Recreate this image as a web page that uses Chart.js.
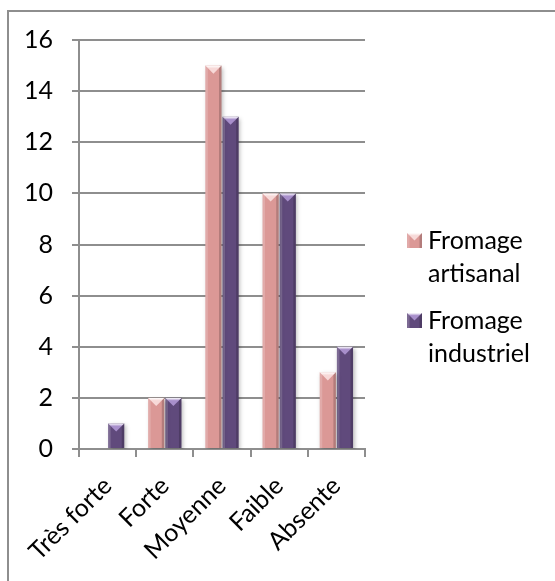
<!DOCTYPE html>
<html>
<head>
<meta charset="utf-8">
<script src="https://cdn.jsdelivr.net/npm/chart.js@4/dist/chart.umd.min.js"></script>
<style>
    html, body { margin: 0; padding: 0; background: #fff; overflow: hidden; }
    #frame {
        position: absolute; left: 7px; top: 10px;
        width: 560px; height: 580px;
        border-left: 2px solid #8e8e8e; border-top: 2px solid #8e8e8e;
    }
    #wrap { position: relative; width: 546px; height: 569px; }
</style>
</head>
<body>
<div id="frame"><div id="wrap"><canvas id="fromageChart"></canvas></div></div>
<script>
const categories = ['Très forte', 'Forte', 'Moyenne', 'Faible', 'Absente'];
const artisanal = [0, 2, 15, 10, 3];
const industriel = [1, 2, 13, 10, 4];
const seriesNames = ['Fromage artisanal', 'Fromage industriel'];
const yMax = 16;
const yStep = 2;

const fillColors = ['#db9896', '#604a7c'];
const topColors = ['#f7d9d8', '#a88fcb'];
const FONT = 'Lato, "Open Sans", sans-serif';
const FONT_SIZE = 25;

// draws the bevelled face of one bar / legend box
function bevel(ctx, l, t, r, b, i) {
    const w = r - l;
    if (b - t < 0.5) return;
    ctx.save();
    ctx.fillStyle = 'rgba(255,255,255,0.18)';
    ctx.fillRect(l, t, 2.5, b - t);
    ctx.fillStyle = 'rgba(0,0,0,0.18)';
    ctx.fillRect(r - 2.5, t, 2.5, b - t);
    const depth = Math.min(w / 2, b - t);
    const g = ctx.createLinearGradient(0, t, 0, t + depth);
    g.addColorStop(0, '#ffffff');
    g.addColorStop(0.35, topColors[i]);
    g.addColorStop(1, topColors[i]);
    ctx.beginPath();
    ctx.moveTo(l, t);
    ctx.lineTo(r, t);
    ctx.lineTo(l + w / 2, t + depth);
    ctx.closePath();
    ctx.fillStyle = g;
    ctx.fill();
    ctx.restore();
}

const bevelPlugin = {
    id: 'bevel',
    beforeDatasetDraw(chart) {
        const ctx = chart.ctx;
        ctx.save();
        ctx.shadowColor = 'rgba(0,0,0,0.25)';
        ctx.shadowBlur = 4;
        ctx.shadowOffsetX = 1.5;
        ctx.shadowOffsetY = 2;
    },
    afterDatasetDraw(chart, args) {
        const ctx = chart.ctx;
        ctx.restore();
        args.meta.data.forEach(bar => {
            const p = bar.getProps(['x', 'y', 'base', 'width'], true);
            bevel(ctx, p.x - p.width / 2, p.y, p.x + p.width / 2, p.base, args.index);
        });
    }
};

// legend on the right, names split on two lines
const sideLegend = {
    id: 'sideLegend',
    afterDraw(chart) {
        const ctx = chart.ctx;
        const area = chart.chartArea;
        const x = area.right + 42;
        let y = area.top + 193;
        ctx.save();
        ctx.font = FONT_SIZE + 'px ' + FONT;
        ctx.textBaseline = 'alphabetic';
        chart.data.datasets.forEach((ds, i) => {
            ctx.fillStyle = ds.backgroundColor;
            ctx.fillRect(x, y, 15, 15);
            bevel(ctx, x, y, x + 15, y + 15, i);
            ctx.fillStyle = '#000';
            ds.label.split(' ').forEach((word, k) => {
                ctx.fillText(word, x + 21, y + 16 + k * 33);
            });
            y += 80;
        });
        ctx.restore();
    }
};

new Chart(document.getElementById('fromageChart'), {
    type: 'bar',
    data: {
        labels: categories,
        datasets: [
            { label: seriesNames[0], data: artisanal, backgroundColor: fillColors[0] },
            { label: seriesNames[1], data: industriel, backgroundColor: fillColors[1] }
        ]
    },
    options: {
        responsive: true,
        maintainAspectRatio: false,
        animation: false,
        categoryPercentage: 0.6,
        barPercentage: 0.94,
        layout: { padding: { top: 28, right: 190, left: 0, bottom: 0 } },
        plugins: {
            legend: { display: false },
            tooltip: { enabled: false }
        },
        scales: {
            x: {
                grid: { display: true, drawOnChartArea: false, drawTicks: true, tickLength: 8, color: '#8e8e8e', lineWidth: 2, offset: true },
                border: { display: true, color: '#8e8e8e', width: 2 },
                ticks: { color: '#000', font: { family: FONT, size: FONT_SIZE }, minRotation: 45, maxRotation: 45, padding: 14 },
                afterFit(scale) {
                    scale.height = 132;
                    scale.paddingLeft = 0;
                    scale.paddingRight = 0;
                }
            },
            y: {
                min: 0,
                max: yMax,
                ticks: { stepSize: yStep, color: '#000', font: { family: FONT, size: FONT_SIZE }, padding: 19 },
                grid: { color: '#8e8e8e', lineWidth: 2, tickLength: 7 },
                border: { display: true, color: '#8e8e8e', width: 2 },
                afterFit(scale) {
                    scale.width = 70;
                    scale.paddingTop = 0;
                    scale.paddingBottom = 0;
                }
            }
        }
    },
    plugins: [bevelPlugin, sideLegend]
});
</script>
</body>
</html>
